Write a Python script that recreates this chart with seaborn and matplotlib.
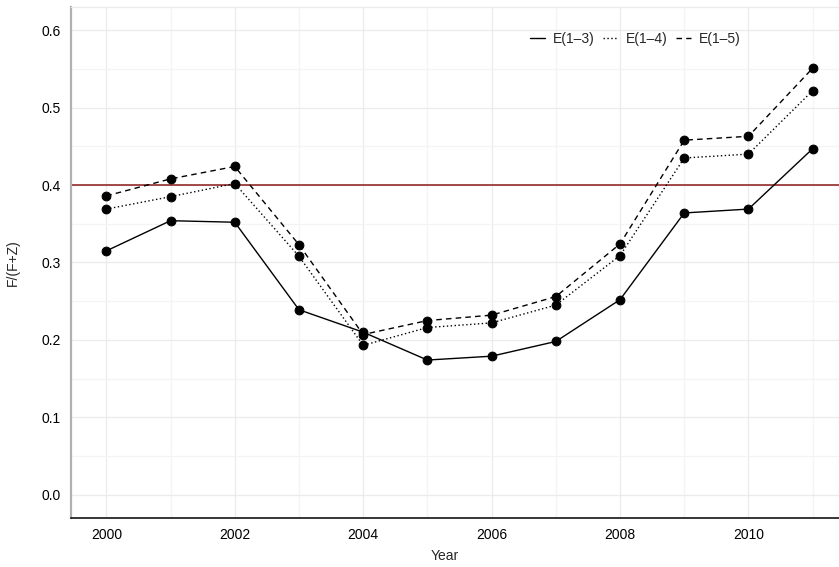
import numpy as np
import pandas as pd
import matplotlib
matplotlib.use("Agg")
import matplotlib.pyplot as plt
from matplotlib.lines import Line2D
from matplotlib.ticker import MultipleLocator
import seaborn as sns

years = list(range(2000, 2012))
e13 = [0.315, 0.354, 0.352, 0.239, 0.210, 0.174, 0.179, 0.198, 0.252, 0.364, 0.369, 0.447]
e14 = [0.369, 0.385, 0.402, 0.308, 0.193, 0.216, 0.222, 0.245, 0.309, 0.435, 0.440, 0.522]
e15 = [0.386, 0.408, 0.424, 0.323, 0.207, 0.225, 0.232, 0.256, 0.324, 0.458, 0.463, 0.551]
series_names = ["E(1\u20133)", "E(1\u20134)", "E(1\u20135)"]
threshold = 0.4

df = pd.DataFrame({
    "Year": years * 3,
    "value": e13 + e14 + e15,
    "series": [s for s in series_names for _ in years],
})

sns.set_theme(style="white")
plt.rcParams["font.family"] = ["Liberation Sans", "DejaVu Sans"]

fig = plt.figure(figsize=(8.39, 5.67), dpi=100)
ax = fig.add_axes([71 / 839, 49 / 567, 777 / 839, 511 / 567])

dash_styles = ["", (1, 1.8), (4, 3)]
sns.lineplot(data=df, x="Year", y="value", style="series", color="black",
             dashes=dash_styles, markers=["o", "o", "o"], markersize=6.3,
             markeredgecolor="black", linewidth=1.0, legend=False, ax=ax)
ax.axhline(threshold, color="#8b1a1a", lw=1.1, zorder=1)

ax.set_xlim(1999.45, 2011.55)
ax.set_ylim(-0.03, 0.63)
ax.xaxis.set_major_locator(MultipleLocator(2))
ax.xaxis.set_minor_locator(MultipleLocator(1))
ax.yaxis.set_major_locator(MultipleLocator(0.1))
ax.yaxis.set_minor_locator(MultipleLocator(0.05))
ax.set_yticklabels([f"{v:.1f}" for v in ax.get_yticks()])
ax.grid(which="major", color="#ebebeb", lw=0.9)
ax.grid(which="minor", color="#f4f4f4", lw=0.9)
ax.set_axisbelow(True)

ax.spines["right"].set_visible(False)
ax.spines["top"].set_color("#ebebeb")
ax.spines["top"].set_linewidth(0.9)
ax.spines["left"].set_color("#b0b0b0")
ax.spines["left"].set_linewidth(1.6)
ax.spines["bottom"].set_color("black")
ax.spines["bottom"].set_linewidth(1.1)
ax.tick_params(axis="both", which="major", labelsize=10, colors="#b0b0b0",
               labelcolor="black", length=4, width=0.8)
ax.tick_params(axis="both", which="minor", length=0)

ax.set_xlabel("Year", fontsize=10)
ax.set_ylabel("F/(F+Z)", fontsize=10)
ax.xaxis.set_label_coords((445 - 71) / 777, -0.06)
ax.yaxis.set_label_coords(-0.066, 0.5)

handles = [Line2D([0], [0], color="black", lw=1.0, linestyle=ls)
           for ls in ["-", (0, (1, 1.8)), (0, (4, 3))]]
fig.legend(handles, series_names, loc="center", bbox_to_anchor=(635 / 839, 1 - 39 / 567),
           ncol=3, frameon=False, fontsize=10, handlelength=1.1, handletextpad=0.55,
           columnspacing=0.6)

fig.savefig("out.png", dpi=100)
